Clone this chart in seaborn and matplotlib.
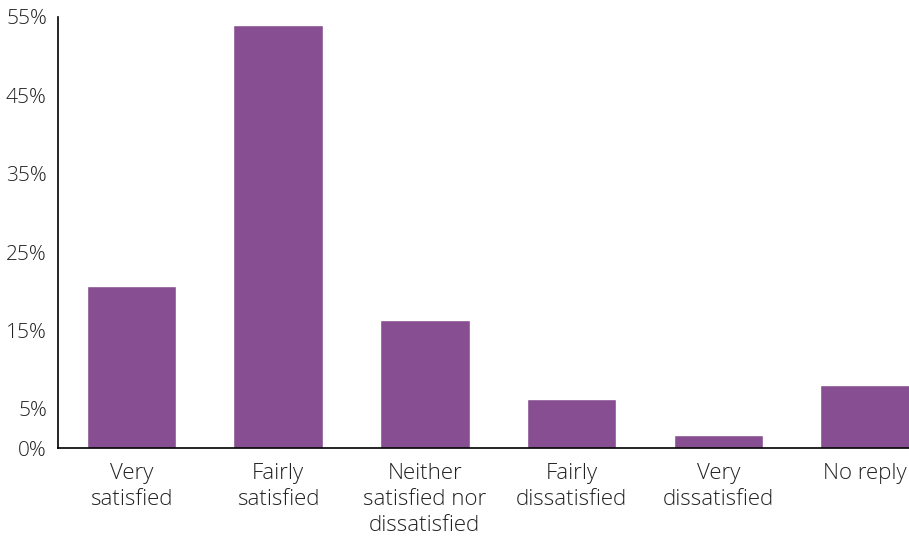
import matplotlib
matplotlib.use('Agg')
import matplotlib.pyplot as plt
import pandas as pd
import seaborn as sns

categories = ['Very\nsatisfied', 'Fairly\nsatisfied', 'Neither\nsatisfied nor\ndissatisfied',
              'Fairly\ndissatisfied', 'Very\ndissatisfied', 'No reply']
shares = [20.7, 54.0, 16.3, 6.3, 1.6, 8.1]
yticks = [0, 5, 15, 25, 35, 45, 55]

sns.set_style('white')
plt.rcParams['font.family'] = ['Open Sans', 'DejaVu Sans']
plt.rcParams['font.weight'] = 'light'

df = pd.DataFrame({'answer': categories, 'share': shares})

fig = plt.figure(figsize=(9.09, 5.39), dpi=100)
ax = fig.add_axes([58 / 909, 91 / 539, 1 - 58 / 909, 431 / 539])

sns.barplot(data=df, x='answer', y='share', color='#874F91', saturation=1,
            width=0.61, ax=ax)

ax.set_ylim(0, 55)
ax.set_xlim(-0.5, 5.3)
ax.set_yticks(yticks)
ax.set_yticklabels([f'{t}%' for t in yticks])
ax.set_xlabel('')
ax.set_ylabel('')

for side in ['top', 'right']:
    ax.spines[side].set_visible(False)
for side in ['left', 'bottom']:
    ax.spines[side].set_color('black')
    ax.spines[side].set_linewidth(1.2)

ax.tick_params(axis='y', direction='in', length=6, width=1.2, color='black',
               labelsize=15, labelcolor='#222222', pad=8)
ax.tick_params(axis='x', length=0, labelsize=16, labelcolor='#222222', pad=11)
for lab in ax.get_xticklabels():
    lab.set_linespacing(1.3)

fig.savefig('out.png', dpi=100)
